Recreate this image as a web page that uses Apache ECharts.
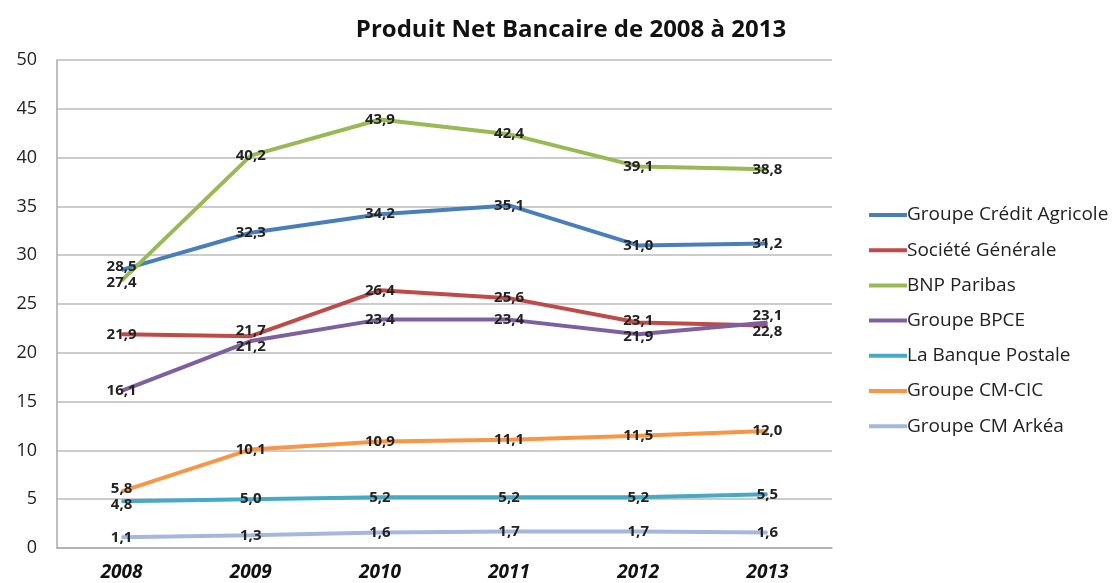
<!DOCTYPE html>
<html>
<head>
<meta charset="utf-8">
<script src="https://cdn.jsdelivr.net/npm/echarts@6/dist/echarts.min.js"></script>
<style>html,body{margin:0;padding:0;background:#fff}#c{width:1112px;height:583px}</style>
</head>
<body>
<div id="c"></div>
<script>
var categories = ['2008', '2009', '2010', '2011', '2012', '2013'];
var creditAgricole = [28.5, 32.3, 34.2, 35.1, 31.0, 31.2];
var societeGenerale = [21.9, 21.7, 26.4, 25.6, 23.1, 22.8];
var bnpParibas = [27.4, 40.2, 43.9, 42.4, 39.1, 38.8];
var groupeBPCE = [16.1, 21.2, 23.4, 23.4, 21.9, 23.1];
var banquePostale = [4.8, 5.0, 5.2, 5.2, 5.2, 5.5];
var cmCic = [5.8, 10.1, 10.9, 11.1, 11.5, 12.0];
var cmArkea = [1.1, 1.3, 1.6, 1.7, 1.7, 1.6];
var seriesNames = ['Groupe Crédit Agricole', 'Société Générale', 'BNP Paribas', 'Groupe BPCE', 'La Banque Postale', 'Groupe CM-CIC', 'Groupe CM Arkéa'];
var seriesData = [creditAgricole, societeGenerale, bnpParibas, groupeBPCE, banquePostale, cmCic, cmArkea];
var colors = ['#4a7ebb', '#be4b48', '#98b954', '#7d60a0', '#46aac5', '#f79646', '#a5b8dc'];

var font = '"Open Sans", "Noto Sans", sans-serif';
var chart = echarts.init(document.getElementById('c'));

// push apart labels of points that sit too close to each other at the same year
function separateLabels(params) {
  var si = params.seriesIndex, di = params.dataIndex;
  var v = seriesData[si][di];
  var yv = chart.convertToPixel({yAxisIndex: 0}, v);
  var minGap = 16;
  var dy = 0;
  for (var k = 0; k < seriesData.length; k++) {
    if (k === si) continue;
    var yo = chart.convertToPixel({yAxisIndex: 0}, seriesData[k][di]);
    var gap = Math.abs(yo - yv);
    if (gap < minGap) {
      var need = (minGap - gap) / 2;
      if (yv < yo || (yv === yo && si < k)) dy -= need; else dy += need;
    }
  }
  return {dy: dy};
}

chart.setOption({
  animation: false,
  color: colors,
  title: {
    text: 'Produit Net Bancaire de 2008 à 2013',
    left: 566, top: 13, textAlign: 'center',
    textStyle: {fontFamily: font, fontSize: 24, fontWeight: 'bold', color: '#111'}
  },
  legend: {
    orient: 'vertical', left: 864, top: 197, itemGap: 9.2,
    itemWidth: 38, itemHeight: 4,
    icon: 'rect',
    textStyle: {fontFamily: font, fontSize: 19, lineHeight: 26, color: '#222', padding: [0, 0, 0, -5]},
    data: seriesNames
  },
  grid: {left: 57, right: 280, top: 60, bottom: 35},
  xAxis: {
    type: 'category', data: categories, boundaryGap: true,
    axisLine: {lineStyle: {color: '#aaa', width: 1.5}},
    axisTick: {show: false},
    axisLabel: {fontFamily: font, fontSize: 19, fontWeight: 'bold', fontStyle: 'italic', color: '#111', margin: 15}
  },
  yAxis: {
    type: 'value', min: 0, max: 50, interval: 5,
    axisLine: {show: true, lineStyle: {color: '#aaa', width: 1.5}},
    axisTick: {show: false},
    splitLine: {lineStyle: {color: '#bbb', width: 1.5}},
    axisLabel: {fontFamily: font, fontSize: 18, color: '#222', margin: 20}
  },
  series: seriesData.map(function (d, i) {
    return {
      name: seriesNames[i], type: 'line', data: d,
      symbol: 'circle', symbolSize: 1,
      lineStyle: {width: 4},
      label: {
        show: true, position: 'inside',
        fontFamily: font, fontSize: 15, fontWeight: 'bold', color: '#222',
        formatter: function (p) { return p.value.toFixed(1).replace('.', ','); }
      },
      labelLayout: separateLabels
    };
  })
});
</script>
</body>
</html>
